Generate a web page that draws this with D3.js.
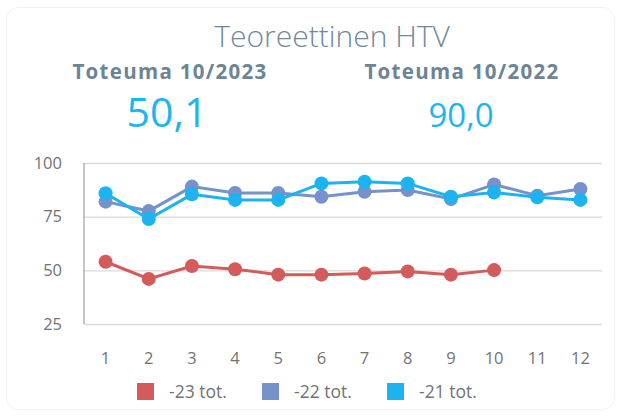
<!DOCTYPE html>
<html>
<head>
<meta charset="utf-8">
<script src="https://cdn.jsdelivr.net/npm/d3@7"></script>
<style>
  body { margin: 0; background: #fff; font-family: "Open Sans", "Noto Sans", sans-serif; }
</style>
</head>
<body>
<div id="chart"></div>
<script>
// data
var months = [1, 2, 3, 4, 5, 6, 7, 8, 9, 10, 11, 12];
var tot23 = [54, 46, 52, 50.5, 48, 48, 48.5, 49.5, 48, 50.1];
var tot22 = [82, 77.6, 89, 86, 86, 84.3, 86.6, 87.4, 83.2, 90, 84.8, 87.9];
var tot21 = [85.9, 73.9, 85.4, 82.8, 82.8, 90.5, 91.3, 90.5, 84.3, 86.3, 84, 82.8];
var seriesNames = ["-23 tot.", "-22 tot.", "-21 tot."];
var yTicks = [25, 50, 75, 100];
var headerLabels = ["Toteuma 10/2023", "Toteuma 10/2022"];
var headerValues = ["50,1", "90,0"];

var colors = ["#d35b5c", "#7592cc", "#1bb3f0"];
var series = [tot22, tot21, tot23]; // draw order
var seriesColor = [colors[1], colors[2], colors[0]];

var W = 619, H = 416;
var margin = { top: 163, right: 17, bottom: 92, left: 84 };
var width = W - margin.left - margin.right,
    height = H - margin.top - margin.bottom;

var svg = d3.select("#chart").append("svg")
    .attr("width", W)
    .attr("height", H);

// card
svg.append("rect")
    .attr("x", 6.5).attr("y", 7.5)
    .attr("width", 608).attr("height", 402)
    .attr("rx", 12)
    .attr("fill", "#fff")
    .attr("stroke", "#f2f2f2");

// title + headers
svg.append("text")
    .attr("x", 332).attr("y", 47)
    .attr("text-anchor", "middle")
    .attr("font-size", 30)
    .attr("font-weight", 300)
    .attr("fill", "#6e8a9b")
    .text("Teoreettinen HTV");

var headerX = [170, 462];
var headerSize = [41, 33];
headerLabels.forEach(function(t, i) {
    svg.append("text")
        .attr("x", headerX[i]).attr("y", 79)
        .attr("text-anchor", "middle")
        .attr("font-size", 20.5)
        .attr("font-weight", 700)
        .attr("letter-spacing", 1.3)
        .attr("fill", "#6c8494")
        .text(t);
    svg.append("text")
        .attr("x", headerX[i] - (i == 0 ? 3 : 1)).attr("y", 127)
        .attr("text-anchor", "middle")
        .attr("font-size", headerSize[i])
        .attr("fill", "#1cb5ee")
        .text(headerValues[i]);
});

var g = svg.append("g")
    .attr("transform", "translate(" + margin.left + "," + margin.top + ")");

// scales
var x = d3.scaleBand().domain(months).range([0, width]);
var y = d3.scaleLinear().domain([25, 100]).range([height, 0]);
function cx(d, i) { return x(months[i]) + x.bandwidth() / 2; }

// gridlines
g.append("g")
    .call(d3.axisLeft(y).tickValues(yTicks).tickSize(-width).tickFormat(""))
    .call(function(a) {
        a.select(".domain").remove();
        a.selectAll("line").attr("stroke", "#d9d9d9").attr("stroke-width", 1.3);
    });

// y axis labels
g.append("g")
    .call(d3.axisLeft(y).tickValues(yTicks).tickSize(0).tickPadding(22))
    .call(function(a) {
        a.select(".domain").remove();
        a.selectAll("text").attr("font-size", 16.5).attr("fill", "#737373")
            .attr("font-family", "Open Sans, sans-serif");
    });

// left axis line
g.append("line")
    .attr("x1", 0).attr("x2", 0)
    .attr("y1", 0).attr("y2", height)
    .attr("stroke", "#a6a6a6")
    .attr("stroke-width", 1.3);

// x axis labels
g.append("g")
    .attr("transform", "translate(0," + height + ")")
    .call(d3.axisBottom(x).tickSize(0).tickPadding(28))
    .call(function(a) {
        a.select(".domain").remove();
        a.selectAll("text").attr("font-size", 16.5).attr("fill", "#737373")
            .attr("font-family", "Open Sans, sans-serif");
    });

// lines and points
var line = d3.line().x(cx).y(function(d) { return y(d); });

series.forEach(function(s, k) {
    g.append("path")
        .datum(s)
        .attr("fill", "none")
        .attr("stroke", seriesColor[k])
        .attr("stroke-width", 3)
        .attr("d", line);
    g.selectAll(null)
        .data(s)
        .enter().append("circle")
        .attr("cx", cx)
        .attr("cy", function(d) { return y(d); })
        .attr("r", 7)
        .attr("fill", seriesColor[k]);
});

// legend
var legendX = [137, 262, 387];
var legend = svg.append("g").attr("transform", "translate(0,383)");
seriesNames.forEach(function(n, i) {
    legend.append("rect")
        .attr("x", legendX[i]).attr("y", 0)
        .attr("width", 17).attr("height", 17)
        .attr("fill", colors[i]);
    legend.append("text")
        .attr("x", legendX[i] + 32).attr("y", 15)
        .attr("font-size", 17.5)
        .attr("fill", "#737373")
        .text(n);
});
</script>
</body>
</html>
